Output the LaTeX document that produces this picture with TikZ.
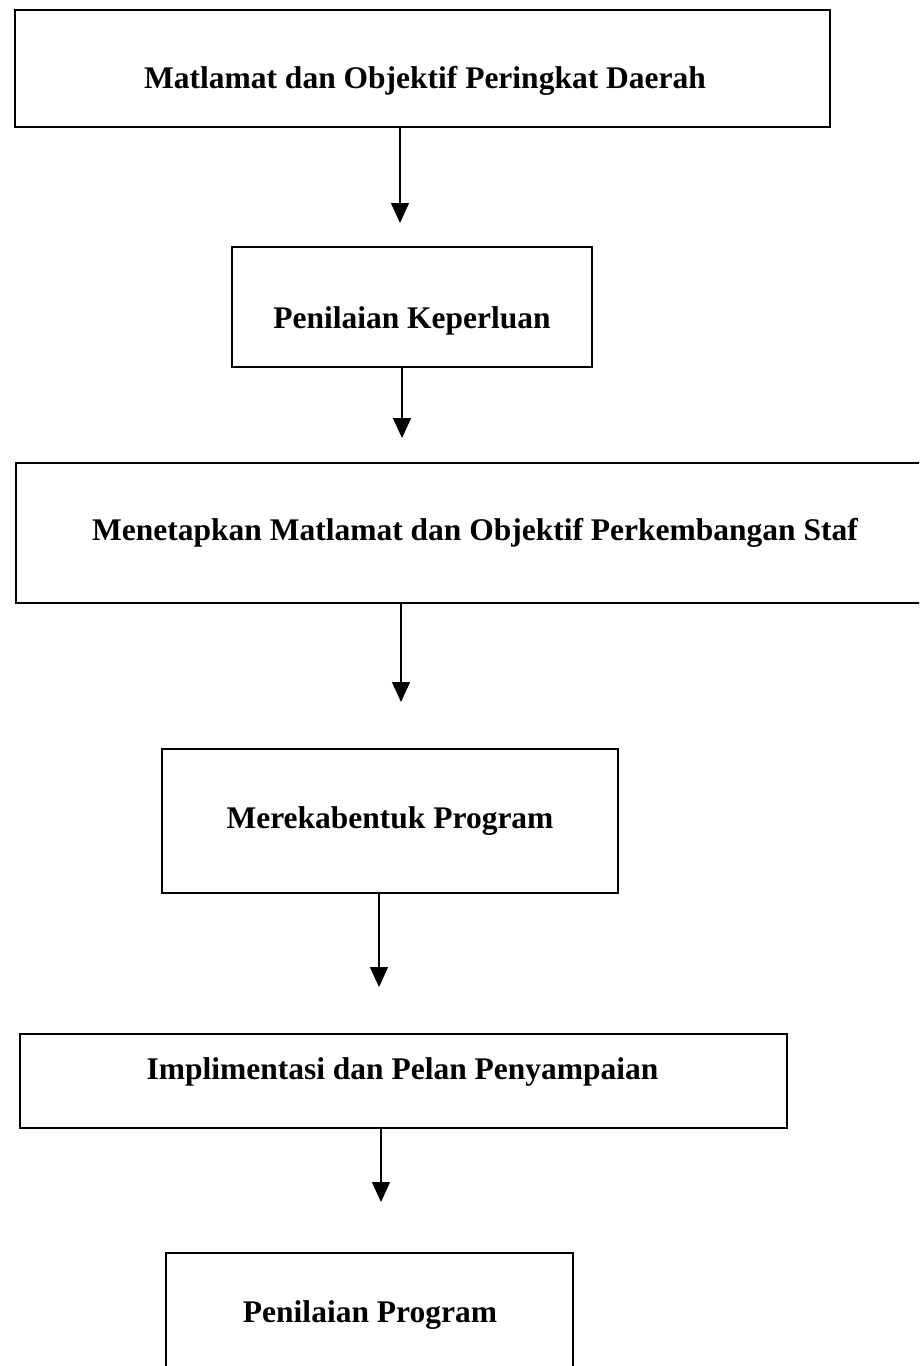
\documentclass[tikz,border=0pt]{standalone}
\usepackage{fontspec}
\setmainfont{Liberation Serif}
\usetikzlibrary{arrows.meta}
\begin{document}
\begin{tikzpicture}[x=1pt,y=-1pt,
  box/.style={draw=black, line width=1.5pt, rectangle, inner sep=0pt},
  lbl/.style={anchor=base, inner sep=0pt, font=\fontsize{31.5}{36}\selectfont\bfseries},
  arr/.style={draw=black, line width=1.3pt, -{Triangle[length=20pt,width=18pt]}}]
\clip (0,0) rectangle (919,1366);
\useasboundingbox (0,0) rectangle (919,1366);
\fill[white] (0,0) rectangle (919,1366);
% boxes
\node[box, minimum width=815pt, minimum height=117pt] (b1) at (422.5,68.5) {};
\node[box, minimum width=360pt, minimum height=120pt] (b2) at (412,307) {};
\node[box, minimum width=920pt, minimum height=140pt] (b3) at (476,533) {};
\node[box, minimum width=456pt, minimum height=144pt] (b4) at (390,821) {};
\node[box, minimum width=767pt, minimum height=94pt] (b5) at (403.5,1081) {};
\node[box, minimum width=407pt, minimum height=140pt] (b6) at (369.5,1323) {};
% labels
\node[lbl] (t1) at (425,88.5) {Matlamat dan Objektif Peringkat Daerah};
\node[lbl] (t2) at (412,328.5) {Penilaian Keperluan};
\node[lbl] (t3) at (475,540) {Menetapkan Matlamat dan Objektif Perkembangan Staf};
\node[lbl] (t4) at (390,828) {Merekabentuk Program};
\node[lbl] (t5) at (402.5,1079) {Implimentasi dan Pelan Penyampaian};
\node[lbl] (t6) at (370,1322) {Penilaian Program};
% arrow tips
\coordinate (p1) at (400,223);
\coordinate (p2) at (402,438);
\coordinate (p3) at (401,702);
\coordinate (p4) at (379,987);
\coordinate (p5) at (381,1202);
\draw[arr] (b1.south -| p1) -- (p1);
\draw[arr] (b2.south -| p2) -- (p2);
\draw[arr] (b3.south -| p3) -- (p3);
\draw[arr] (b4.south -| p4) -- (p4);
\draw[arr] (b5.south -| p5) -- (p5);
\end{tikzpicture}
\end{document}
